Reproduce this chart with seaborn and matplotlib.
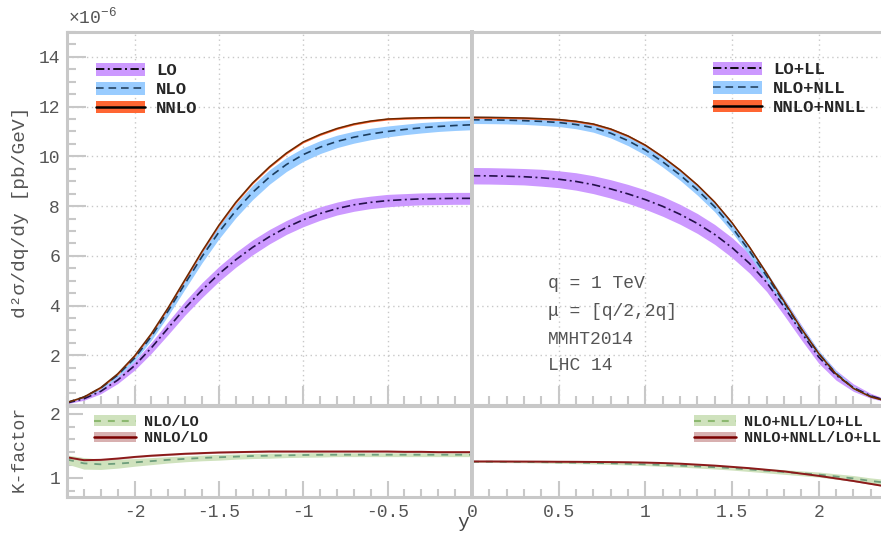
import numpy as np
import matplotlib
matplotlib.use('Agg')
import matplotlib.pyplot as plt
import seaborn as sns
from matplotlib.lines import Line2D
from matplotlib.patches import Patch
from matplotlib.ticker import MultipleLocator, FixedLocator, FormatStrFormatter

sns.set_theme(style='white')
plt.rcParams['font.family'] = ['Liberation Mono', 'DejaVu Sans']
plt.rcParams['mathtext.fontset'] = 'custom'
plt.rcParams['mathtext.rm'] = 'Liberation Mono'
plt.rcParams['lines.scale_dashes'] = False

# ---------------- data ----------------
rap_left = np.round(np.arange(-2.4, 0.001, 0.1), 2)
rap_right = np.round(np.arange(0.0, 2.401, 0.1), 2)

# fixed order (left half), units of 1e-6 pb/GeV
lo = [0.08, 0.25, 0.55, 1.0, 1.58, 2.3, 3.1, 3.9, 4.62, 5.27, 5.84, 6.34, 6.77,
      7.14, 7.45, 7.7, 7.9, 8.05, 8.15, 8.22, 8.26, 8.29, 8.3, 8.31, 8.31]
lo_hw = [0.03, 0.06, 0.1, 0.14, 0.18, 0.22, 0.26, 0.28, 0.3, 0.3, 0.3, 0.3, 0.29,
         0.28, 0.28, 0.27, 0.26, 0.26, 0.25, 0.25, 0.24, 0.24, 0.24, 0.24, 0.24]
nlo = [0.1, 0.32, 0.68, 1.2, 1.88, 2.76, 3.79, 4.89, 5.97, 6.95, 7.81, 8.55, 9.17,
       9.67, 10.07, 10.37, 10.6, 10.77, 10.9, 11.0, 11.08, 11.15, 11.2, 11.24, 11.27]
nlo_hw = [0.02, 0.04, 0.06, 0.09, 0.12, 0.15, 0.19, 0.22, 0.25, 0.27, 0.28, 0.29, 0.29,
          0.28, 0.27, 0.26, 0.25, 0.24, 0.23, 0.22, 0.21, 0.21, 0.2, 0.2, 0.2]
nnlo = [0.1, 0.32, 0.7, 1.25, 1.97, 2.87, 3.92, 5.05, 6.18, 7.23, 8.15, 8.93, 9.58,
        10.13, 10.58, 10.88, 11.12, 11.3, 11.42, 11.5, 11.53, 11.55, 11.56, 11.56, 11.56]
nnlo_hw = [0.01, 0.02, 0.03, 0.04, 0.04, 0.04, 0.04, 0.04, 0.04, 0.04, 0.04, 0.04, 0.04,
           0.04, 0.04, 0.04, 0.04, 0.04, 0.04, 0.04, 0.04, 0.04, 0.04, 0.04, 0.04]

# resummed (right half)
lo_ll = [9.22, 9.215, 9.2, 9.18, 9.14, 9.08, 8.99, 8.86, 8.69, 8.49, 8.26, 7.99, 7.67,
         7.3, 6.86, 6.33, 5.7, 4.93, 3.95, 2.92, 1.93, 1.2, 0.7, 0.37, 0.16]
lo_ll_hw = [0.33, 0.33, 0.33, 0.33, 0.34, 0.34, 0.35, 0.36, 0.37, 0.38, 0.39, 0.4, 0.4,
            0.4, 0.4, 0.4, 0.39, 0.37, 0.34, 0.3, 0.25, 0.2, 0.15, 0.1, 0.05]
nlo_nll = [11.47, 11.465, 11.455, 11.435, 11.405, 11.36, 11.28, 11.15, 10.93, 10.63, 10.25, 9.78, 9.25,
           8.65, 7.97, 7.15, 6.2, 5.18, 4.12, 3.05, 2.07, 1.27, 0.69, 0.35, 0.15]
nlo_nll_hw = [0.15, 0.15, 0.15, 0.15, 0.16, 0.16, 0.17, 0.18, 0.19, 0.2, 0.2, 0.21, 0.21,
              0.21, 0.2, 0.2, 0.19, 0.18, 0.16, 0.14, 0.12, 0.1, 0.07, 0.05, 0.03]
nnlo_nnll = [11.57, 11.565, 11.555, 11.54, 11.515, 11.48, 11.41, 11.3, 11.1, 10.82, 10.45, 9.98, 9.45,
             8.85, 8.16, 7.33, 6.36, 5.29, 4.17, 3.07, 2.07, 1.25, 0.67, 0.33, 0.14]
nnlo_nnll_hw = [0.04, 0.04, 0.04, 0.04, 0.04, 0.04, 0.04, 0.04, 0.04, 0.04, 0.04, 0.04, 0.04,
                0.04, 0.04, 0.04, 0.04, 0.04, 0.04, 0.04, 0.04, 0.03, 0.02, 0.02, 0.01]

# K-factors
k_nlo = [1.285, 1.225, 1.21, 1.22, 1.24, 1.26, 1.28, 1.295, 1.31, 1.32, 1.33, 1.34, 1.345,
         1.35, 1.355, 1.358, 1.36, 1.36, 1.36, 1.36, 1.36, 1.36, 1.36, 1.36, 1.36]
k_nlo_hw = [0.07, 0.09, 0.08, 0.07, 0.06, 0.055, 0.05, 0.045, 0.045, 0.045, 0.04, 0.04, 0.04,
            0.035, 0.035, 0.035, 0.03, 0.03, 0.03, 0.03, 0.03, 0.03, 0.03, 0.03, 0.03]
k_nnlo = [1.32, 1.275, 1.28, 1.3, 1.325, 1.345, 1.36, 1.375, 1.385, 1.395, 1.4, 1.405, 1.41,
          1.41, 1.41, 1.41, 1.41, 1.41, 1.41, 1.41, 1.405, 1.405, 1.40, 1.40, 1.40]
k_nnlo_hw = [0.012, 0.012, 0.012, 0.012, 0.012, 0.012, 0.012, 0.012, 0.012, 0.012, 0.012, 0.012, 0.012,
             0.012, 0.012, 0.012, 0.012, 0.012, 0.012, 0.012, 0.012, 0.012, 0.012, 0.012, 0.012]
k_nlo_nll = [1.25, 1.25, 1.248, 1.246, 1.244, 1.24, 1.236, 1.232, 1.226, 1.219, 1.21, 1.2, 1.19,
             1.178, 1.165, 1.15, 1.13, 1.11, 1.09, 1.07, 1.05, 1.02, 0.99, 0.95, 0.92]
k_nlo_nll_hw = [0.01, 0.01, 0.012, 0.012, 0.014, 0.015, 0.016, 0.017, 0.018, 0.019, 0.02, 0.022, 0.024,
                0.026, 0.028, 0.03, 0.032, 0.034, 0.036, 0.038, 0.04, 0.042, 0.045, 0.048, 0.05]
k_nnlo_nnll = [1.255, 1.255, 1.254, 1.253, 1.252, 1.25, 1.249, 1.247, 1.245, 1.242, 1.237, 1.23, 1.22,
               1.205, 1.19, 1.17, 1.15, 1.125, 1.1, 1.065, 1.03, 0.99, 0.95, 0.905, 0.86]
k_nnlo_nnll_hw = [0.008, 0.008, 0.008, 0.008, 0.008, 0.008, 0.008, 0.008, 0.008, 0.008, 0.008, 0.008, 0.008,
                  0.008, 0.008, 0.008, 0.008, 0.008, 0.008, 0.008, 0.008, 0.008, 0.008, 0.008, 0.008]

labels_left = ['LO', 'NLO', 'NNLO']
labels_right = ['LO+LL', 'NLO+NLL', 'NNLO+NNLL']
klabels_left = ['NLO/LO', 'NNLO/LO']
klabels_right = ['NLO+NLL/LO+LL', 'NNLO+NNLL/LO+LL']
info_lines = ['q = 1 TeV', 'μ = [q/2,2q]', 'MMHT2014', 'LHC 14']

# ---------------- styles ----------------
C_LO_BAND, C_LO_LINE = '#cc99ff', '#24104a'
C_NLO_BAND, C_NLO_LINE = '#99ccff', '#1c3d5e'
C_NNLO_BAND, C_NNLO_LINE = '#ff6633', '#6e2800'
C_KN_BAND, C_KN_LINE = '#cfe2bd', '#6e9e7c'
C_KNN_BAND, C_KNN_LINE = '#d8b0b0', '#8b1a1a'
LS_LO = (0, (6, 2.5, 1.4, 2.5))
LS_NLO = (0, (5.5, 3.5))
LS_K = (0, (5, 5))
SP = '#c8c8c8'
TXT = '#555555'

W, H = 881, 533
fig = plt.figure(figsize=(W / 100, H / 100), dpi=100)
fig.patch.set_facecolor('white')


def rect(x0, y0, x1, y1):
    return [x0 / W, 1 - y1 / H, (x1 - x0) / W, (y1 - y0) / H]


ax_ml = fig.add_axes(rect(67, 32, 472, 405))
ax_mr = fig.add_axes(rect(472, 32, 888, 405))
ax_rl = fig.add_axes(rect(67, 406, 472, 497))
ax_rr = fig.add_axes(rect(472, 406, 888, 497))


def band_line(ax, x, c, hw, bcol, lcol, ls, lw):
    c = np.asarray(c)
    hw = np.asarray(hw)
    ax.fill_between(x, c - hw, c + hw, color=bcol, lw=0, zorder=2)
    sns.lineplot(x=x, y=c, ax=ax, color=lcol, linestyle=ls, lw=lw, zorder=3)


band_line(ax_ml, rap_left, lo, lo_hw, C_LO_BAND, C_LO_LINE, LS_LO, 1.2)
band_line(ax_ml, rap_left, nlo, nlo_hw, C_NLO_BAND, C_NLO_LINE, LS_NLO, 1.2)
band_line(ax_ml, rap_left, nnlo, nnlo_hw, C_NNLO_BAND, C_NNLO_LINE, '-', 1.1)
band_line(ax_mr, rap_right, lo_ll, lo_ll_hw, C_LO_BAND, C_LO_LINE, LS_LO, 1.2)
band_line(ax_mr, rap_right, nlo_nll, nlo_nll_hw, C_NLO_BAND, C_NLO_LINE, LS_NLO, 1.2)
band_line(ax_mr, rap_right, nnlo_nnll, nnlo_nnll_hw, C_NNLO_BAND, C_NNLO_LINE, '-', 1.1)
band_line(ax_rl, rap_left, k_nlo, k_nlo_hw, C_KN_BAND, C_KN_LINE, LS_K, 1.3)
band_line(ax_rl, rap_left, k_nnlo, k_nnlo_hw, C_KNN_BAND, C_KNN_LINE, '-', 1.4)
band_line(ax_rr, rap_right, k_nlo_nll, k_nlo_nll_hw, C_KN_BAND, C_KN_LINE, LS_K, 1.3)
band_line(ax_rr, rap_right, k_nnlo_nnll, k_nnlo_nnll_hw, C_KNN_BAND, C_KNN_LINE, '-', 1.4)


def style(ax, xlim, ylim, xmajor, main, left):
    ax.set_facecolor('white')
    ax.set_xlim(*xlim)
    ax.set_ylim(*ylim)
    ax.set_xlabel('')
    ax.set_ylabel('')
    for name, s in ax.spines.items():
        s.set_color(SP)
        s.set_linewidth(2.2)
        s.set_zorder(5)
    ax.xaxis.set_major_locator(FixedLocator(xmajor))
    ax.xaxis.set_minor_locator(MultipleLocator(0.1))
    ax.xaxis.set_major_formatter(FormatStrFormatter('%g'))
    if main:
        ax.yaxis.set_major_locator(FixedLocator([2, 4, 6, 8, 10, 12, 14]))
        ax.yaxis.set_minor_locator(MultipleLocator(0.5))
        mj, mn = 13.5, 6.5
    else:
        ax.yaxis.set_major_locator(FixedLocator([1, 2]))
        ax.yaxis.set_minor_locator(FixedLocator([0.8, 1.2, 1.4, 1.6, 1.8]))
        mj, mn = 11.5, 5.8
    ax.yaxis.set_major_formatter(FormatStrFormatter('%g'))
    ax.tick_params(axis='both', which='both', direction='in', color=SP, width=1.5,
                   labelcolor=TXT, labelsize=13, top=False, right=False)
    ax.tick_params(axis='both', which='major', length=mj, pad=5)
    ax.tick_params(axis='both', which='minor', length=mn)
    ax.tick_params(axis='x', which='both', bottom=True, labelbottom=not main)
    ax.tick_params(axis='y', which='both', left=left, labelleft=left)
    if main:
        ax.grid(True, which='major', color=SP, lw=1.0, ls=(0, (1, 2.5)))
    else:
        ax.grid(False)
    ax.set_axisbelow(True)


style(ax_ml, (-2.4, 0), (0, 15), [-2, -1.5, -1, -0.5], True, True)
style(ax_mr, (0, 2.4), (0, 15), [0, 0.5, 1, 1.5, 2], True, False)
style(ax_rl, (-2.4, 0), (0.7, 2.12), [-2, -1.5, -1, -0.5], False, True)
style(ax_rr, (0, 2.4), (0.7, 2.12), [0, 0.5, 1, 1.5, 2], False, False)
for ax in (ax_ml, ax_rl):
    ax.spines['right'].set_linewidth(2.8)
for ax in (ax_mr, ax_rr):
    ax.spines['left'].set_linewidth(2.8)


def make_handles(bands, lines, styles, lws):
    return [(Patch(facecolor=b, edgecolor='none'), Line2D([], [], color=l, linestyle=s, lw=w))
            for b, l, s, w in zip(bands, lines, styles, lws)]


main_handles = make_handles([C_LO_BAND, C_NLO_BAND, C_NNLO_BAND],
                            ['black', '#2f4f6f', 'black'], [LS_LO, LS_NLO, '-'], [1.3, 1.3, 1.8])
k_handles = make_handles([C_KN_BAND, C_KNN_BAND], ['#8cb870', '#7a0000'], [LS_K, '-'], [1.5, 1.8])

leg_kw = dict(frameon=False, borderpad=0, borderaxespad=0, labelspacing=0.2,
              handlelength=2.85, handleheight=0.75, handletextpad=0.6,
              prop={'family': 'Liberation Mono', 'weight': 'bold', 'size': 12.5})
ax_ml.legend(main_handles, labels_left, loc='upper left',
             bbox_to_anchor=(29 / 405, (405 - 63) / 373), **leg_kw)
ax_mr.legend(main_handles, labels_right, loc='upper left',
             bbox_to_anchor=((713 - 472) / 416, (405 - 62) / 373), **leg_kw)
kleg_kw = dict(frameon=False, borderpad=0, borderaxespad=0, labelspacing=0.15,
               handlelength=2.75, handleheight=0.7, handletextpad=0.55,
               prop={'family': 'Liberation Mono', 'weight': 'bold', 'size': 11})
ax_rl.legend(k_handles, klabels_left, loc='upper left',
             bbox_to_anchor=(27 / 405, (497 - 415) / 91), **kleg_kw)
ax_rr.legend(k_handles, klabels_right, loc='upper left',
             bbox_to_anchor=((694 - 472) / 416, (497 - 415) / 91), **kleg_kw)

for txt, py in zip(info_lines, [283, 311, 339, 366]):
    ax_mr.text((548 - 472) / 416, (405 - py) / 373, txt, transform=ax_mr.transAxes,
               ha='left', va='center', fontsize=13, color=TXT)

fig.text(68 / W, 1 - 17 / H, r'$\times10^{-6}$', ha='left', va='center', fontsize=13, color=TXT)
fig.text(21 / W, 1 - 212 / H, 'd²σ/dq/dy [pb/GeV]', rotation=90, ha='center', va='center',
         fontsize=14, color=TXT)
fig.text(19 / W, 1 - 449 / H, 'K-factor', rotation=90, ha='center', va='center',
         fontsize=13, color=TXT)
fig.text(463 / W, 2 / H, 'y', ha='center', va='bottom', fontsize=14, color='#444444')

fig.savefig('out.png', dpi=100)
